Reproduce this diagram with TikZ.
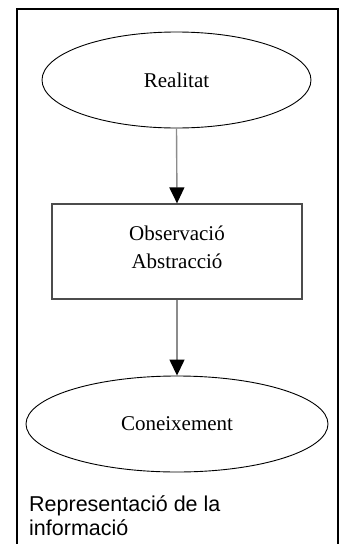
\documentclass[tikz,border=0pt]{standalone}
\usepackage{fontspec}
\setmainfont{Liberation Serif}
\newfontfamily\captionsans{Liberation Sans}
\usetikzlibrary{shapes.geometric,arrows.meta}

\tikzset{
  stage/.style={ellipse, draw=black, line width=0.9pt, inner sep=0pt,
    font=\fontsize{21}{28}\selectfont},
  process/.style={rectangle, draw=black!70, line width=1.3pt, inner sep=0pt,
    align=center, font=\fontsize{21}{28}\selectfont},
  flow/.style={draw=black!45, line width=1.4pt,
    -{Triangle[width=15pt,length=16pt,black]}},
  frame/.style={draw=black, line width=1.3pt}
}

\begin{document}
\begin{tikzpicture}[x=1pt,y=-1pt]
  \useasboundingbox (0,0) rectangle (339,544);

  % outer frame, open at the bottom
  \draw[frame] (17,546) -- (17,9) -- (338,9) -- (338,546);

  \node[stage, minimum width=269pt, minimum height=96pt] (real) at (176.5,80) {Realitat};
  \node[process, minimum width=250pt, minimum height=95pt, text depth=8pt] (obs) at (177,251.5)
    {Observació\\Abstracció};
  \node[stage, minimum width=302pt, minimum height=96pt] (con) at (177,424) {Coneixement};

  \draw[flow] (real.south) -- (obs.north);
  \draw[flow] (obs.south) -- (con.north);

  \node[anchor=north west, inner sep=0pt, align=left,
        font=\captionsans\fontsize{21.5}{24}\selectfont] (cap) at (29,495.5)
    {Representació de la\\informació};
\end{tikzpicture}
\end{document}
